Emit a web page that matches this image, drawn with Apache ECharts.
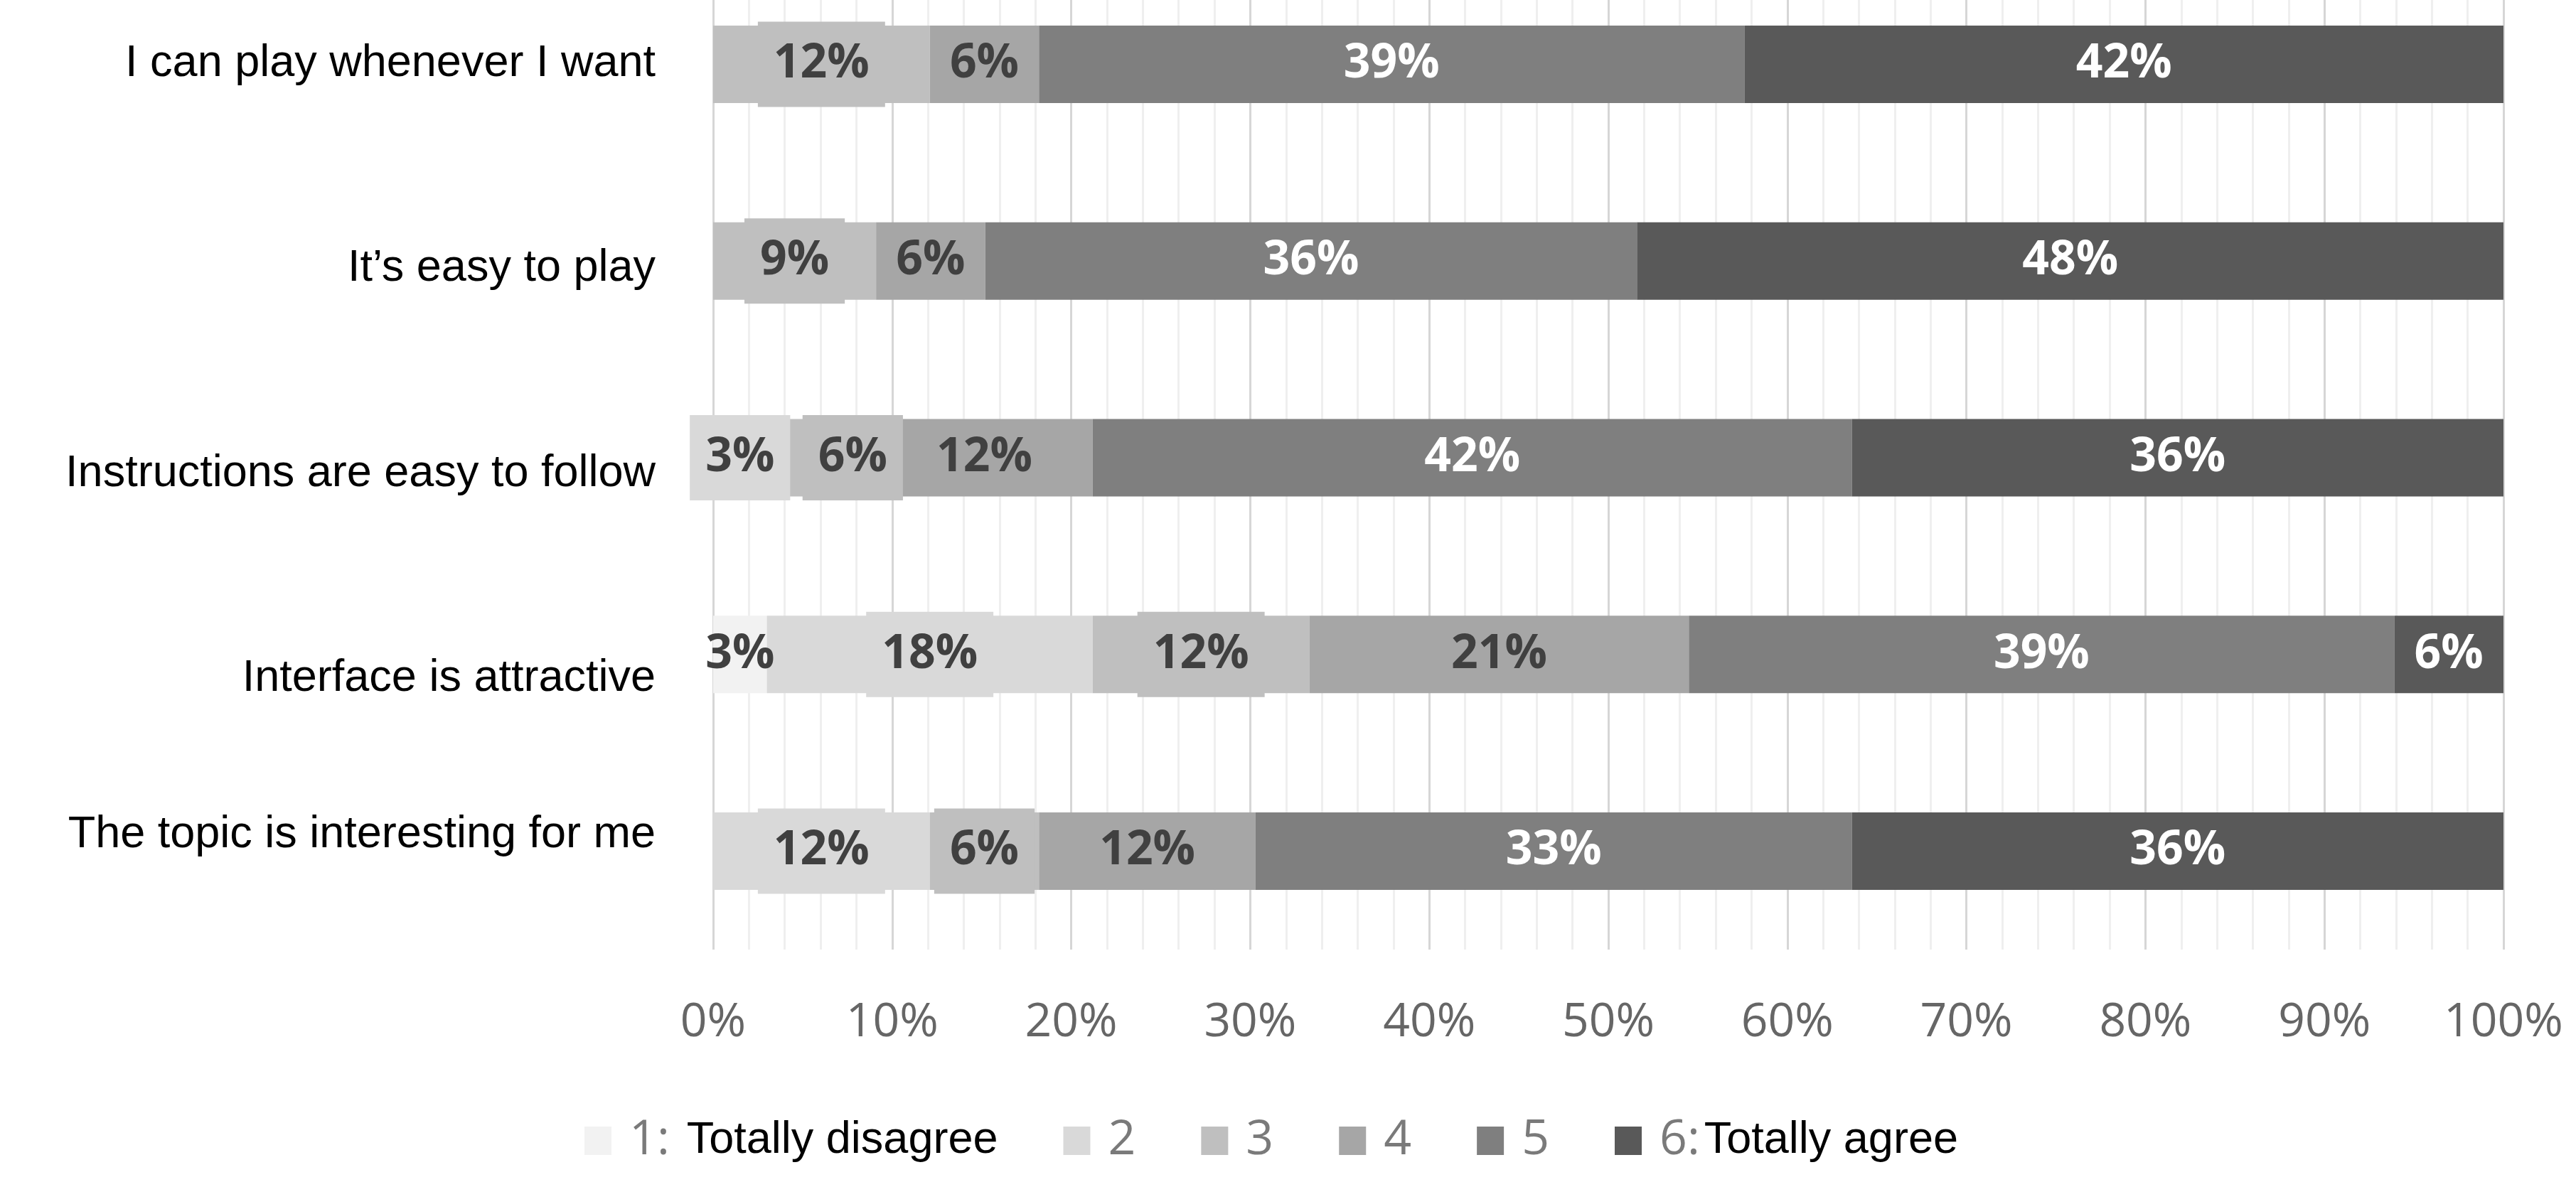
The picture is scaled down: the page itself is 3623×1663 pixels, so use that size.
<!DOCTYPE html>
<html>
<head>
<meta charset="utf-8">
<script src="https://cdn.jsdelivr.net/npm/echarts@6/dist/echarts.min.js"></script>
<style>
html,body{margin:0;padding:0;background:#fff;}
#chart{width:3623px;height:1663px;}
</style>
</head>
<body>
<div id="chart"></div>
<script>
const categories = [
  "I can play whenever I want",
  "It\u2019s easy to play",
  "Instructions are easy to follow",
  "Interface is attractive",
  "The topic is interesting for me"
];
const seriesNames = ["1: Totally disagree", "2", "3", "4", "5", "6: Totally agree"];
const level1 = [null, null, null, 3.0, null];
const level2 = [null, null, 3.0, 18.2, 12.1];
const level3 = [12.1, 9.1, 6.1, 12.1, 6.1];
const level4 = [6.1, 6.1, 12.1, 21.2, 12.1];
const level5 = [39.4, 36.4, 42.4, 39.4, 33.3];
const level6 = [42.4, 48.4, 36.4, 6.1, 36.4];
const xTicks = [0, 10, 20, 30, 40, 50, 60, 70, 80, 90, 100];

const levels = [level1, level2, level3, level4, level5, level6];
const colors = ["#f2f2f2", "#d9d9d9", "#bfbfbf", "#a6a6a6", "#7f7f7f", "#595959"];
const labelColors = ["#404040", "#404040", "#404040", "#404040", "#ffffff", "#ffffff"];
const boxed = [false, true, true, false, false, false];
// vertical nudge of category labels (px, + = down), as in the reference
const catLabelShift = [-1, 10, 23, 34, -23];

const chart = echarts.init(document.getElementById('chart'), null, {renderer: 'canvas'});

const series = levels.map((vals, i) => {
  const data = vals.map((v, j) => {
    // the reference shows the "6%" label of "Instructions..." nudged right
    if (i === 2 && j === 2) return {value: v, label: {offset: [44, 0]}};
    return v;
  });
  return {
    name: seriesNames[i],
    type: 'bar',
    stack: 'total',
    barWidth: 109,
    data: data,
    itemStyle: {color: colors[i]},
    label: {
      show: true,
      position: 'inside',
      formatter: p => (p.value == null ? '' : Math.round(p.value) + '%'),
      fontFamily: 'Open Sans',
      fontWeight: 'bold',
      fontSize: 66,
      lineHeight: 66,
      color: labelColors[i],
      backgroundColor: boxed[i] ? colors[i] : 'transparent',
      padding: boxed[i] ? [27, 22] : 0
    },
    emphasis: {disabled: true}
  };
});

const richCat = {};
catLabelShift.forEach((s, i) => {
  richCat['c' + i] = {
    fontFamily: 'Liberation Sans',
    fontSize: 63,
    color: '#000000',
    padding: s >= 0 ? [2 * s, 0, 0, 0] : [0, 0, -2 * s, 0]
  };
});

chart.setOption({
  animation: false,
  backgroundColor: '#ffffff',
  grid: {left: 1003, right: 102, top: -48, bottom: 327, containLabel: false, outerBoundsMode: 'none'},
  legend: {
    left: 817,
    top: 1566,
    itemWidth: 38,
    itemHeight: 40,
    itemGap: 92,
    icon: 'rect',
    data: seriesNames,
    formatter: name => {
      const idx = name.indexOf(':');
      if (idx < 0) return '{g|' + name + '}';
      const b = name.charAt(0) === '1' ? 'b1' : 'b6';
      return '{g|' + name.slice(0, idx + 1) + '}{' + b + '|' + name.slice(idx + 1).trim() + '}';
    },
    textStyle: {
      rich: {
        g: {fontFamily: 'Open Sans', fontSize: 68, color: '#7a7a7a', padding: [0, 0, 0, 20]},
        b1: {fontFamily: 'Liberation Sans', fontSize: 63, color: '#000000', padding: [0, 0, 0, 24]},
        b6: {fontFamily: 'Liberation Sans', fontSize: 63, color: '#000000', padding: [0, 0, 0, 6]}
      }
    }
  },
  xAxis: {
    type: 'value',
    min: 0,
    max: 100,
    interval: 10,
    axisLine: {show: false},
    axisTick: {show: false},
    axisLabel: {
      formatter: v => (xTicks.indexOf(v) >= 0 ? v + '%' : ''),
      fontFamily: 'Open Sans',
      fontSize: 66,
      color: '#666666',
      margin: 70
    },
    splitLine: {show: true, lineStyle: {color: '#d6d6d6', width: 3}},
    minorTick: {show: false, splitNumber: 5},
    minorSplitLine: {show: true, lineStyle: {color: '#efefef', width: 3}}
  },
  yAxis: {
    type: 'category',
    data: categories,
    inverse: true,
    axisLine: {show: false},
    axisTick: {show: false},
    splitLine: {show: false},
    axisLabel: {
      formatter: (v, idx) => '{c' + idx + '|' + v + '}',
      rich: richCat,
      margin: 81
    }
  },
  series: series
});
</script>
</body>
</html>
